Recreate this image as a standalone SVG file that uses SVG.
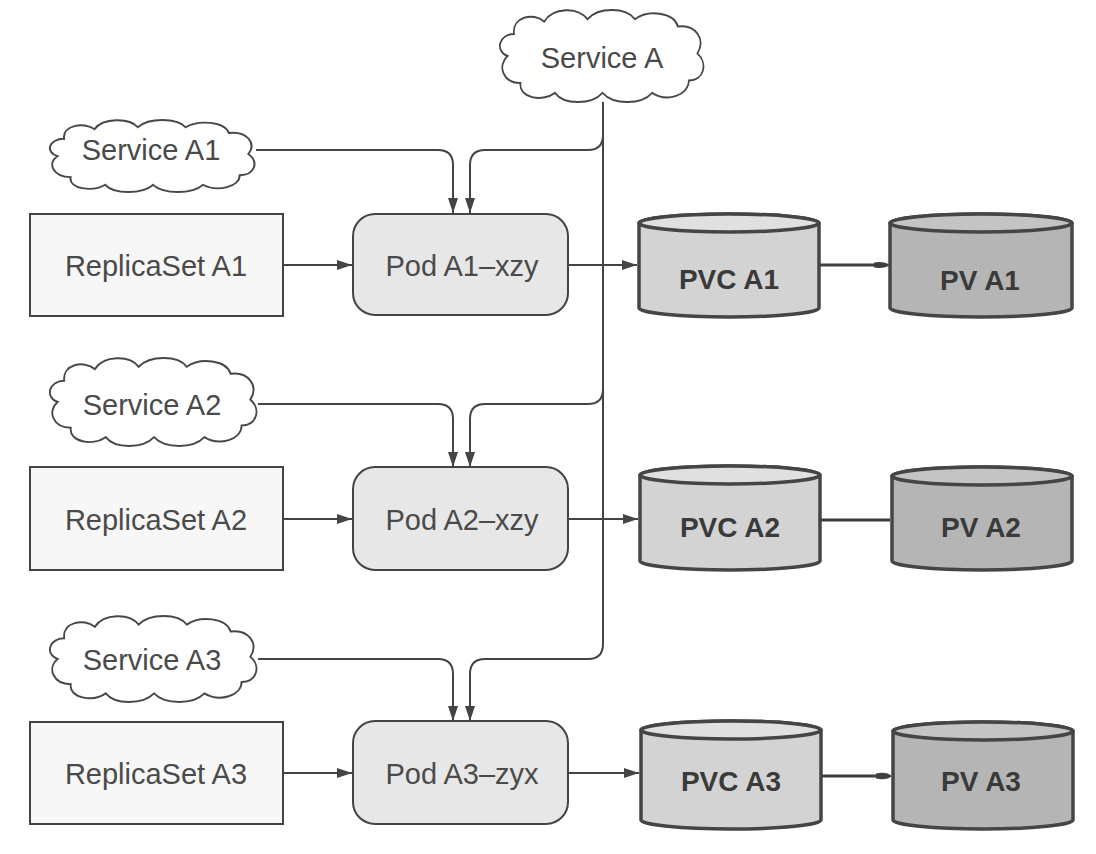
<svg xmlns="http://www.w3.org/2000/svg" width="1096" height="854" viewBox="0 0 1096 854">
  <defs>
    <style>
      .txt { font-family: "Liberation Sans", Arial, sans-serif; font-size: 29px; fill: #4a4a4a; text-anchor: middle; }
      .btxt { font-family: "Liberation Sans", Arial, sans-serif; font-size: 28px; font-weight: bold; fill: #3a3a3a; text-anchor: middle; }
      .cloud { fill: #ffffff; stroke: #474747; stroke-width: 1.8; }
      .rs { fill: #f7f7f7; stroke: #444; stroke-width: 2; }
      .pod { fill: #e7e7e7; stroke: #444; stroke-width: 2; }
      .wire { fill: none; stroke: #444; stroke-width: 2; }
      .link { fill: none; stroke: #3f3f3f; stroke-width: 3.2; }
      .pvc { fill: #d3d3d3; stroke: #454545; stroke-width: 3.5; }
      .pvcTop { fill: #e0e0e0; stroke: #454545; stroke-width: 3.5; }
      .pv { fill: #b5b5b5; stroke: #454545; stroke-width: 3.5; }
      .pvTop { fill: #c4c4c4; stroke: #454545; stroke-width: 3.5; }
    </style>
    <marker id="arrow" viewBox="0 0 15 10" refX="15" refY="5" markerWidth="15" markerHeight="10" markerUnits="userSpaceOnUse" orient="auto">
      <path d="M0,0 L15,5 L0,10 Z" fill="#444"/>
    </marker>
    <path id="cloudShape" d="M12,42 C0,38 4,24 18,24 C16,10 36,6 46,14 C54,2 78,2 86,12 C96,2 122,2 130,12 C142,4 166,6 170,18 C186,16 196,28 188,40 C198,48 194,62 180,62 C180,74 160,80 146,72 C136,82 110,82 100,72 C90,82 64,82 56,72 C44,80 22,76 24,64 C8,64 2,50 12,42 Z"/>
  </defs>

  <rect width="1096" height="854" fill="#ffffff"/>

  <!-- connectors -->
  <g id="connectors">
    <!-- Service A trunk and its branches -->
    <path class="wire" d="M603,102 V644 Q603,659 588,659 H485 Q470,659 470,674 V721" marker-end="url(#arrow)"/>
    <path class="wire" d="M603,135 Q603,150 588,150 H485 Q470,150 470,165 V213" marker-end="url(#arrow)"/>
    <path class="wire" d="M603,389 Q603,404 588,404 H485 Q470,404 470,419 V467" marker-end="url(#arrow)"/>
    <!-- per-pod services -->
    <path class="wire" d="M256,150 H438 Q453,150 453,165 V213" marker-end="url(#arrow)"/>
    <path class="wire" d="M258,404 H438 Q453,404 453,419 V467" marker-end="url(#arrow)"/>
    <path class="wire" d="M258,659 H438 Q453,659 453,674 V721" marker-end="url(#arrow)"/>
    <!-- ReplicaSet to Pod -->
    <path class="wire" d="M283,265 H352" marker-end="url(#arrow)"/>
    <path class="wire" d="M283,519 H352" marker-end="url(#arrow)"/>
    <path class="wire" d="M283,773 H352" marker-end="url(#arrow)"/>
    <!-- Pod to PVC -->
    <path class="wire" d="M568,265 H637" marker-end="url(#arrow)"/>
    <path class="wire" d="M568,519 H638" marker-end="url(#arrow)"/>
    <path class="wire" d="M568,773 H639" marker-end="url(#arrow)"/>
    <!-- PVC bound to PV -->
    <path class="link" d="M819,265 H880"/>
    <path d="M874,262.5 Q884,261 890,265 Q884,269 874,267.5 Z" fill="#3f3f3f"/>
    <path class="link" d="M820,520 H890"/>
    <path class="link" d="M821,776 H882"/>
    <path d="M876,773.5 Q886,771 892,776 Q886,781 876,778.5 Z" fill="#3f3f3f"/>
  </g>

  <!-- services -->
  <g id="serviceA">
    <use href="#cloudShape" class="cloud" transform="translate(494.6,4.5) scale(1.079,1.227)" style="stroke-width:1.6"/>
    <text class="txt" x="602" y="68">Service A</text>
  </g>
  <g id="serviceA1">
    <use href="#cloudShape" class="cloud" transform="translate(44.6,115.7) scale(1.084,0.96)" style="stroke-width:1.9"/>
    <text class="txt" x="151" y="160">Service A1</text>
  </g>
  <g id="serviceA2">
    <use href="#cloudShape" class="cloud" transform="translate(44.5,352.7) scale(1.095,1.173)" style="stroke-width:1.7"/>
    <text class="txt" x="152" y="415">Service A2</text>
  </g>
  <g id="serviceA3">
    <use href="#cloudShape" class="cloud" transform="translate(44.5,610.8) scale(1.095,1.147)" style="stroke-width:1.7"/>
    <text class="txt" x="152" y="670">Service A3</text>
  </g>

  <!-- replica sets -->
  <g id="replicaSetA1">
    <rect class="rs" x="30" y="214" width="253" height="102"/>
    <text class="txt" x="156" y="276">ReplicaSet A1</text>
  </g>
  <g id="replicaSetA2">
    <rect class="rs" x="30" y="467" width="253" height="103"/>
    <text class="txt" x="156" y="530">ReplicaSet A2</text>
  </g>
  <g id="replicaSetA3">
    <rect class="rs" x="30" y="722" width="253" height="102"/>
    <text class="txt" x="156" y="784">ReplicaSet A3</text>
  </g>

  <!-- pods -->
  <g id="podA1">
    <rect class="pod" x="353" y="214" width="215" height="101" rx="22" ry="22"/>
    <text class="txt" x="462" y="276">Pod A1–xzy</text>
  </g>
  <g id="podA2">
    <rect class="pod" x="353" y="467" width="215" height="103" rx="22" ry="22"/>
    <text class="txt" x="462" y="530">Pod A2–xzy</text>
  </g>
  <g id="podA3">
    <rect class="pod" x="353" y="721" width="215" height="103" rx="22" ry="22"/>
    <text class="txt" x="462" y="784">Pod A3–zyx</text>
  </g>

  <!-- persistent volume claims -->
  <g id="pvcA1">
    <path class="pvc" d="M639,223 V308 A90,9 0 0 0 819,308 V223 A90,9 0 0 0 639,223 Z"/>
    <ellipse class="pvcTop" cx="729" cy="223" rx="90" ry="9"/>
    <text class="btxt" x="729" y="289">PVC A1</text>
  </g>
  <g id="pvcA2">
    <path class="pvc" d="M640,475 V561 A90,9 0 0 0 820,561 V475 A90,9 0 0 0 640,475 Z"/>
    <ellipse class="pvcTop" cx="730" cy="475" rx="90" ry="9"/>
    <text class="btxt" x="730" y="537">PVC A2</text>
  </g>
  <g id="pvcA3">
    <path class="pvc" d="M641,730 V820 A90,9 0 0 0 821,820 V730 A90,9 0 0 0 641,730 Z"/>
    <ellipse class="pvcTop" cx="731" cy="730" rx="90" ry="9"/>
    <text class="btxt" x="731" y="791">PVC A3</text>
  </g>

  <!-- persistent volumes -->
  <g id="pvA1">
    <path class="pv" d="M890,223 V308 A91,9 0 0 0 1072,308 V223 A91,9 0 0 0 890,223 Z"/>
    <ellipse class="pvTop" cx="981" cy="223" rx="91" ry="9"/>
    <text class="btxt" x="980" y="290">PV A1</text>
  </g>
  <g id="pvA2">
    <path class="pv" d="M892,476 V561 A90,9 0 0 0 1072,561 V476 A90,9 0 0 0 892,476 Z"/>
    <ellipse class="pvTop" cx="982" cy="476" rx="90" ry="9"/>
    <text class="btxt" x="981" y="537">PV A2</text>
  </g>
  <g id="pvA3">
    <path class="pv" d="M893,731 V820 A90,9 0 0 0 1073,820 V731 A90,9 0 0 0 893,731 Z"/>
    <ellipse class="pvTop" cx="983" cy="731" rx="90" ry="9"/>
    <text class="btxt" x="981" y="791">PV A3</text>
  </g>
</svg>
